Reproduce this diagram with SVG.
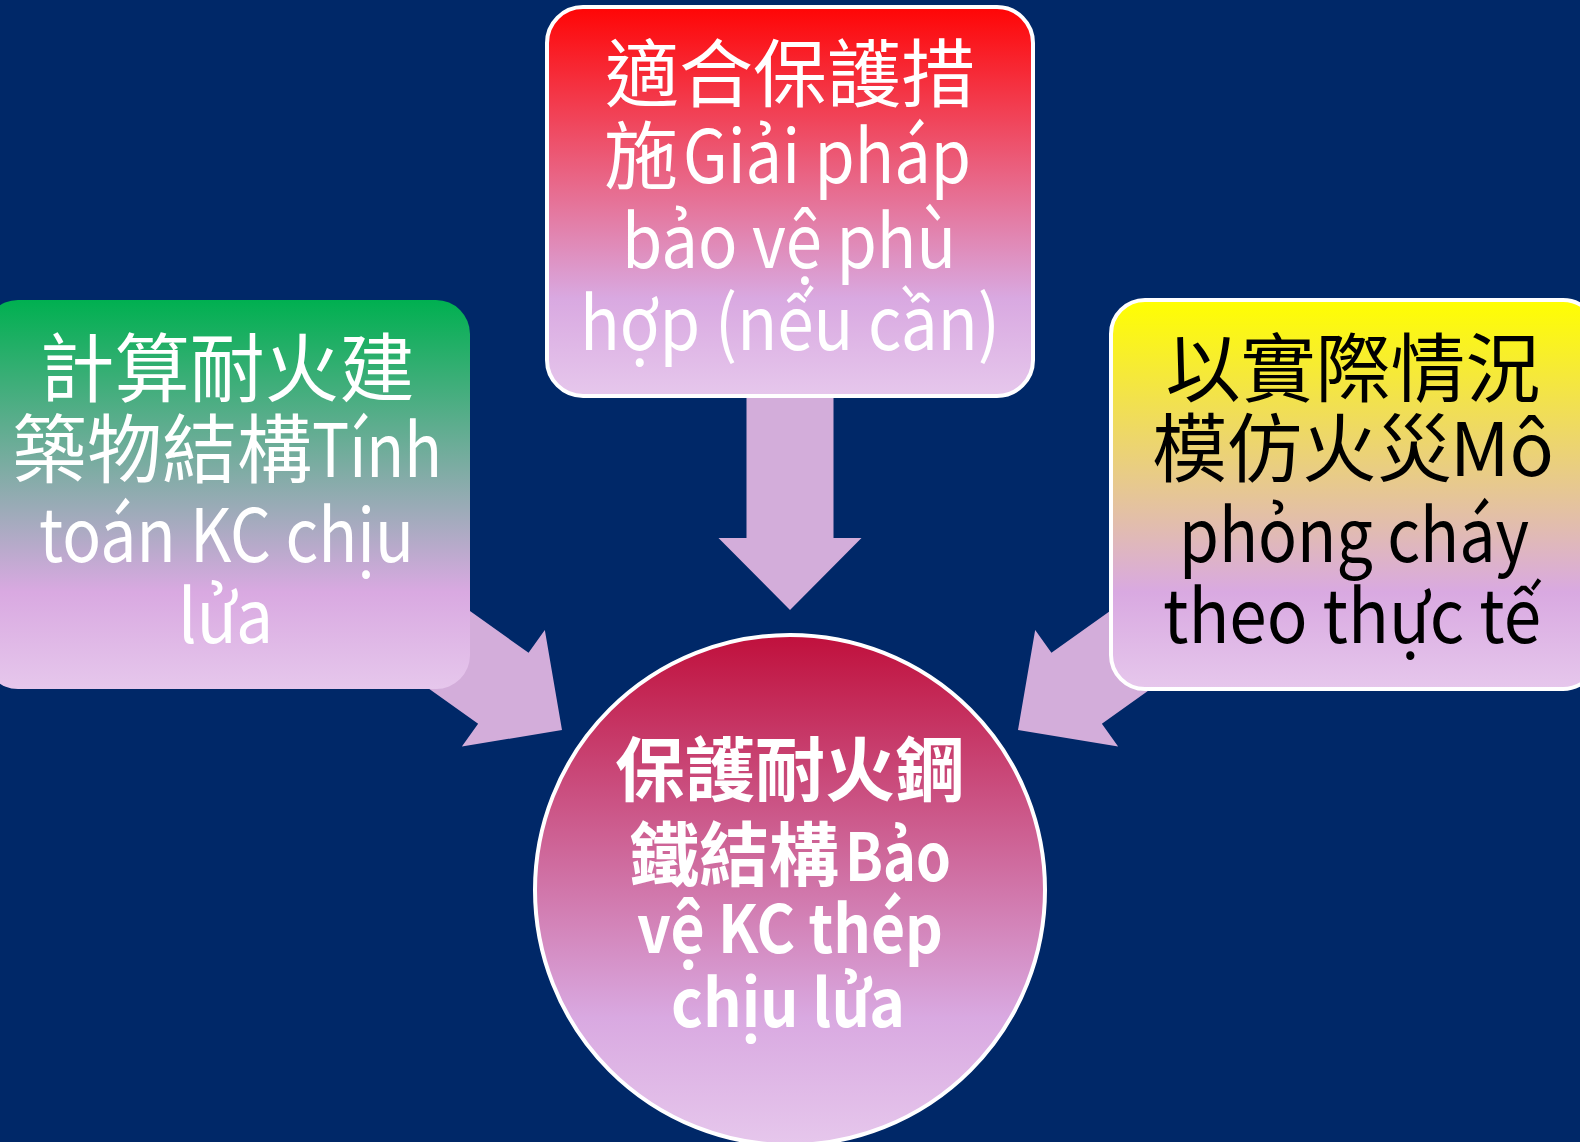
<svg xmlns="http://www.w3.org/2000/svg" width="1580" height="1142" viewBox="0 0 1580 1142">
  <defs>
    <linearGradient id="gRed" x1="0" y1="0" x2="0" y2="1">
      <stop offset="0" stop-color="#FF0505"/>
      <stop offset="0.75" stop-color="#D9A9E1"/>
      <stop offset="1" stop-color="#E6C7EC"/>
    </linearGradient>
    <linearGradient id="gGreen" x1="0" y1="0" x2="0" y2="1">
      <stop offset="0" stop-color="#00B050"/>
      <stop offset="0.75" stop-color="#D9A9E1"/>
      <stop offset="1" stop-color="#E6C7EC"/>
    </linearGradient>
    <linearGradient id="gYellow" x1="0" y1="0" x2="0" y2="1">
      <stop offset="0" stop-color="#FFFF00"/>
      <stop offset="0.75" stop-color="#D9A9E1"/>
      <stop offset="1" stop-color="#E6C7EC"/>
    </linearGradient>
    <linearGradient id="gCrimson" x1="0" y1="0" x2="0" y2="1">
      <stop offset="0" stop-color="#C0103C"/>
      <stop offset="0.75" stop-color="#D9A9E1"/>
      <stop offset="1" stop-color="#E6C7EC"/>
    </linearGradient>
    <path id="arrowShape" d="M0,0 L-72,-71.5 L-72,-43.5 L-300,-43.5 L-300,43.5 L-72,43.5 L-72,71.5 Z"/>
  </defs>
  <style>
    .t { font-family: "Noto Sans CJK TC", "Noto Sans CJK SC", sans-serif; }
    .m { text-anchor: middle; }
    .w { fill: #FFFFFF; }
    .k { fill: #000000; }
    .top { font-size: 74px; }
    .side { font-size: 75px; }
    .lat { font-size: 74px; }
    .circ { font-size: 70px; font-weight: bold; }
    .clat { font-size: 66px; font-weight: bold; }
    .arrow { fill: #D3ADDA; }
  </style>
  <rect x="0" y="0" width="1580" height="1142" fill="#002868"/>

  <g id="connectors">
    <use href="#arrowShape" class="arrow" transform="translate(790,610) rotate(90)"/>
    <use href="#arrowShape" class="arrow" transform="translate(562,730) rotate(35.45)"/>
    <use href="#arrowShape" class="arrow" transform="translate(1018,730) rotate(144.55)"/>
  </g>

  <g id="node-top">
    <rect x="547" y="7" width="486" height="389" rx="36" ry="36" fill="url(#gRed)" stroke="#FFFFFF" stroke-width="4"/>
    <text class="t w top m" x="790" y="101">適合保護措</text>
    <text class="t w top" x="604" y="183">施</text>
    <text class="t w lat" x="683" y="183" textLength="288" lengthAdjust="spacingAndGlyphs">Giải pháp</text>
    <text class="t w lat" x="622" y="268" textLength="334" lengthAdjust="spacingAndGlyphs">bảo vệ phù</text>
    <text class="t w lat" x="580" y="350" textLength="420" lengthAdjust="spacingAndGlyphs">hợp (nếu cần)</text>
  </g>

  <g id="node-left">
    <rect x="-16" y="300" width="486" height="389" rx="34" ry="34" fill="url(#gGreen)"/>
    <text class="t w side m" x="227" y="396">計算耐火建</text>
    <text class="t w side" x="12" y="477">築物結構</text>
    <text class="t w lat" x="312" y="477" textLength="130" lengthAdjust="spacingAndGlyphs">Tính</text>
    <text class="t w lat" x="39" y="562" textLength="375" lengthAdjust="spacingAndGlyphs">toán KC chịu</text>
    <text class="t w lat" x="178" y="643" textLength="95" lengthAdjust="spacingAndGlyphs">lửa</text>
  </g>

  <g id="node-right">
    <rect x="1111" y="300" width="486" height="389" rx="34" ry="34" fill="url(#gYellow)" stroke="#FFFFFF" stroke-width="4"/>
    <text class="t k side m" x="1353" y="396">以實際情況</text>
    <text class="t k side" x="1152" y="476">模仿火災</text>
    <text class="t k lat" x="1450" y="476" textLength="104" lengthAdjust="spacingAndGlyphs">Mô</text>
    <text class="t k lat" x="1179" y="562" textLength="350" lengthAdjust="spacingAndGlyphs">phỏng cháy</text>
    <text class="t k lat" x="1163" y="643" textLength="378" lengthAdjust="spacingAndGlyphs">theo thực tế</text>
  </g>

  <g id="node-center">
    <circle cx="790" cy="890" r="255" fill="url(#gCrimson)" stroke="#FFFFFF" stroke-width="4"/>
    <text class="t w circ m" x="790" y="796">保護耐火鋼</text>
    <text class="t w circ" x="629" y="881">鐵結構</text>
    <text class="t w clat" x="845" y="881" textLength="106" lengthAdjust="spacingAndGlyphs">Bảo</text>
    <text class="t w clat" x="637" y="953" textLength="306" lengthAdjust="spacingAndGlyphs">vệ KC thép</text>
    <text class="t w clat" x="671" y="1027" textLength="234" lengthAdjust="spacingAndGlyphs">chịu lửa</text>
  </g>
</svg>
